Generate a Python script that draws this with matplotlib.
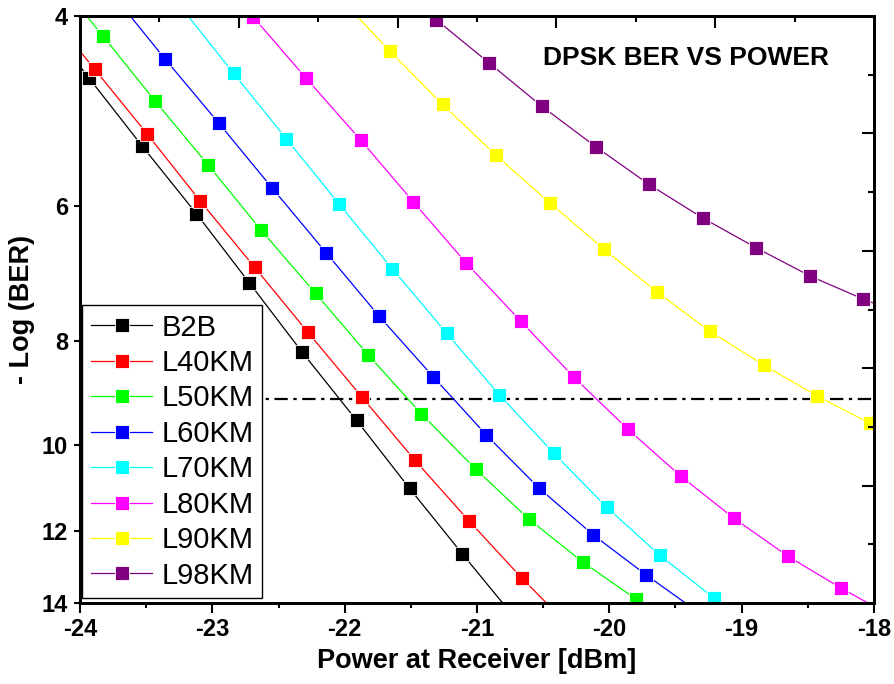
import numpy as np
import matplotlib
matplotlib.use('Agg')
import matplotlib.pyplot as plt
from matplotlib.ticker import NullLocator, NullFormatter, FixedLocator

plt.rcParams['font.family'] = ['Liberation Sans', 'DejaVu Sans']

# data (points just outside the frame keep the lines running to the edges)
labels = ['B2B', 'L40KM', 'L50KM', 'L60KM', 'L70KM', 'L80KM', 'L90KM', 'L98KM']
colors = ['#000000', '#ff0000', '#00ff00', '#0000ff', '#00ffff', '#ff00ff', '#ffff00', '#800080']

b2b_x = [-24.33, -23.93, -23.53, -23.12, -22.72, -22.32, -21.91, -21.51, -21.11, -20.70]
b2b_y = [3.95, 4.57, 5.28, 6.10, 7.07, 8.20, 9.48, 10.96, 12.61, 14.52]

l40_x = [-24.29, -23.89, -23.49, -23.09, -22.68, -22.28, -21.87, -21.47, -21.06, -20.66, -20.25]
l40_y = [3.90, 4.48, 5.15, 5.94, 6.84, 7.85, 9.02, 10.32, 11.75, 13.28, 14.93]

l50_x = [-24.23, -23.83, -23.43, -23.03, -22.63, -22.22, -21.82, -21.42, -21.01, -20.61, -20.20, -19.80, -19.40]
l50_y = [3.63, 4.17, 4.80, 5.50, 6.32, 7.23, 8.25, 9.35, 10.52, 11.70, 12.83, 13.88, 14.93]

l60_x = [-23.76, -23.36, -22.95, -22.55, -22.14, -21.74, -21.33, -20.93, -20.53, -20.12, -19.72, -19.32]
l60_y = [3.81, 4.38, 5.03, 5.77, 6.63, 7.59, 8.64, 9.78, 10.96, 12.11, 13.19, 14.30]

l70_x = [-23.24, -22.84, -22.44, -22.04, -21.64, -21.23, -20.83, -20.42, -20.02, -19.62, -19.21, -18.81]
l70_y = [3.92, 4.52, 5.20, 5.98, 6.86, 7.87, 8.98, 10.17, 11.41, 12.64, 13.85, 14.86]

l80_x = [-22.69, -22.29, -21.88, -21.48, -21.08, -20.67, -20.27, -19.86, -19.46, -19.06, -18.65, -18.25, -17.85]
l80_y = [4.01, 4.57, 5.21, 5.95, 6.78, 7.67, 8.64, 9.66, 10.68, 11.68, 12.67, 13.56, 14.43]

l90_x = [-22.06, -21.66, -21.26, -20.86, -20.45, -20.04, -19.64, -19.24, -18.83, -18.43, -18.03]
l90_y = [3.82, 4.31, 4.83, 5.38, 5.96, 6.58, 7.21, 7.84, 8.43, 9.00, 9.54]

l98_x = [-21.31, -20.91, -20.51, -20.10, -19.70, -19.29, -18.89, -18.48, -18.08, -17.68]
l98_y = [4.03, 4.42, 4.85, 5.29, 5.73, 6.16, 6.56, 6.97, 7.32, 7.65]

threshold = 9.06

xs = [b2b_x, l40_x, l50_x, l60_x, l70_x, l80_x, l90_x, l98_x]
ys = [b2b_y, l40_y, l50_y, l60_y, l70_y, l80_y, l90_y, l98_y]

fig = plt.figure(figsize=(8.94, 6.84), dpi=100)
ax = fig.add_axes([0.0895, 0.1184, 0.8881, 0.8582])

ax.axhline(threshold, color='black', lw=1.6, dashes=(6, 2.5, 1.5, 2.5), zorder=1)

for x, y, c, lab in zip(xs, ys, colors, labels):
    ax.plot(x, y, '-', color=c, lw=0.9, marker='s', markersize=9.5,
            markerfacecolor=c, markeredgecolor='white', markeredgewidth=0.6,
            label=lab, zorder=3)

ax.set_yscale('log')
ax.set_xlim(-24, -18)
ax.set_ylim(14, 4)
ax.yaxis.set_major_locator(FixedLocator([4, 6, 8, 10, 12, 14]))
ax.set_yticklabels(['4', '6', '8', '10', '12', '14'])
ax.yaxis.set_minor_locator(NullLocator())
ax.yaxis.set_minor_formatter(NullFormatter())
ax.set_xticks(np.arange(-24, -17.9, 1))
ax.set_xticklabels(['-24', '-23', '-22', '-21', '-20', '-19', '-18'])
ax.set_xticks(np.arange(-23.5, -18, 1), minor=True)

ax.tick_params(axis='both', which='major', direction='out', width=1.5,
               labelsize=17, pad=4)
ax.tick_params(axis='x', which='major', length=7)
ax.tick_params(axis='x', which='minor', direction='out', length=3.5, width=1.5)
ax.tick_params(axis='y', which='major', length=4.5)
for t in ax.get_xticklabels() + ax.get_yticklabels():
    t.set_fontweight('bold')

for s in ax.spines.values():
    s.set_linewidth(2)

ax.set_xlabel('Power at Receiver [dBm]', fontsize=19.5, fontweight='bold', labelpad=5)
ax.set_ylabel('- Log (BER)', fontsize=19.5, fontweight='bold', labelpad=5)

ax.text(0.583, 0.928, 'DPSK BER VS POWER', transform=ax.transAxes,
        fontsize=19, fontweight='bold', ha='left', va='center')

leg = ax.legend(loc='upper left', bbox_to_anchor=(0.003, 0.508), borderaxespad=0,
                fontsize=21, numpoints=1, handlelength=2.1, handletextpad=0.3,
                labelspacing=0.255, borderpad=0.3, fancybox=False, framealpha=1,
                edgecolor='black')
leg.get_frame().set_linewidth(1.0)

# right axis: plain linear ticks, no labels
axr = ax.twinx()
axr.set_ylim(14, 4)
axr.set_yticks([6, 8, 10, 12])
axr.set_yticks([5, 7, 9, 11, 13], minor=True)
axr.tick_params(axis='y', which='major', direction='in', length=8.5, width=1.5, labelright=False)
axr.tick_params(axis='y', which='minor', direction='in', length=4, width=1.5)
for s in axr.spines.values():
    s.set_linewidth(2)

# top axis: plain linear ticks, no labels
axt = ax.twiny()
axt.set_xlim(0, 10)
axt.set_xticks([2, 4, 6, 8])
axt.set_xticks([1, 3, 5, 7, 9], minor=True)
axt.tick_params(axis='x', which='major', direction='in', length=8.5, width=1.5, labeltop=False)
axt.tick_params(axis='x', which='minor', direction='in', length=4, width=1.5)
for s in axt.spines.values():
    s.set_linewidth(2)

fig.savefig('out.png', dpi=100)
